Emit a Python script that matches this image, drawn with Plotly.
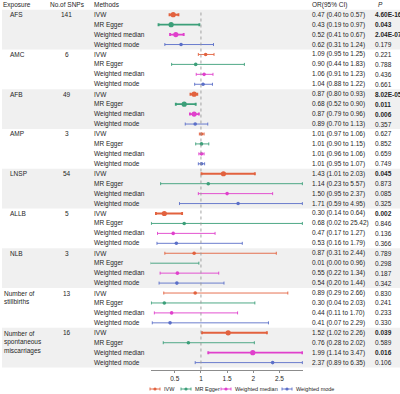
import plotly.graph_objects as go

# ---------------- data ----------------
exposures = ["AFS", "AMC", "AFB", "AMP", "LNSP", "ALLB", "NLB",
             "Number of<br>stillbirths", "Number of<br>spontaneous<br>miscarriages"]
n_snps = [141, 6, 49, 3, 54, 5, 3, 13, 16]
methods = ["IVW", "MR Egger", "Weighted median", "Weighted mode"]

or_vals = [0.47, 0.43, 0.52, 0.62,
           1.09, 0.90, 1.06, 1.04,
           0.87, 0.68, 0.87, 0.89,
           1.01, 1.01, 1.01, 1.01,
           1.43, 1.14, 1.50, 1.71,
           0.30, 0.68, 0.47, 0.53,
           0.87, 0.01, 0.55, 0.54,
           0.89, 0.30, 0.44, 0.41,
           1.52, 0.76, 1.99, 2.37]
ci_low = [0.40, 0.19, 0.41, 0.31,
          0.95, 0.44, 0.91, 0.88,
          0.80, 0.52, 0.79, 0.70,
          0.97, 0.90, 0.96, 0.95,
          1.01, 0.23, 0.95, 0.59,
          0.14, 0.02, 0.17, 0.16,
          0.31, 0.00, 0.22, 0.20,
          0.29, 0.04, 0.11, 0.07,
          1.02, 0.28, 1.14, 0.89]
ci_high = [0.57, 0.97, 0.67, 1.24,
           1.25, 1.83, 1.23, 1.22,
           0.93, 0.90, 0.96, 1.13,
           1.06, 1.15, 1.06, 1.07,
           2.03, 5.57, 2.37, 4.95,
           0.64, 25.42, 1.27, 1.79,
           2.44, 0.96, 1.34, 1.44,
           2.66, 2.03, 1.70, 2.29,
           2.26, 2.02, 3.47, 6.35]
p_text = ["4.60E-16", "0.043", "2.04E-07", "0.179",
          "0.221", "0.788", "0.436", "0.661",
          "8.02E-05", "0.011", "0.006", "0.357",
          "0.627", "0.852", "0.659", "0.749",
          "0.045", "0.873", "0.085", "0.325",
          "0.002", "0.846", "0.136", "0.366",
          "0.789", "0.298", "0.187", "0.342",
          "0.830", "0.241", "0.233", "0.330",
          "0.039", "0.589", "0.016", "0.106"]
x_ticks = [0.5, 1, 1.5, 2, 2.5]

colors = {"IVW": "#e2623f", "MR Egger": "#3c9f79",
          "Weighted median": "#e040cc", "Weighted mode": "#5b6fc8"}

# ---------------- layout constants ----------------
W, H = 400, 394
FONT = "Liberation Sans, Arial, sans-serif"
TXT = "#262626"
FS = 6.5
ROW0, ROWH = 14.7, 9.94
AX_BOTTOM = 369.5
XMIN, XMAX = 0.04, 2.95
PLOT_L, PLOT_R = 150.7, 303.0


def px(x):
    return x / W


def py(y):
    return (H - y) / H


n_rows = len(or_vals)
row_y = [ROW0 + i * ROWH for i in range(n_rows)]
row_method = [methods[i % 4] for i in range(n_rows)]
sig = [float(p) < 0.05 for p in p_text]

fig = go.Figure()

for m in methods:
    for s in (False, True):
        idx = [i for i in range(n_rows) if row_method[i] == m and sig[i] == s]
        if not idx:
            continue
        xs = [or_vals[i] for i in idx]
        ys = [row_y[i] for i in idx]
        plus = [max(min(ci_high[i], XMAX - 0.012) - or_vals[i], 0) for i in idx]
        minus = [max(or_vals[i] - max(ci_low[i], XMIN + 0.012), 0) for i in idx]
        fig.add_trace(go.Scatter(
            x=xs, y=ys, mode="markers",
            marker=dict(color=colors[m], size=5.2 if s else 3.6, line=dict(width=0)),
            error_x=dict(type="data", symmetric=False, array=plus, arrayminus=minus,
                         color=colors[m], thickness=1.9 if s else 0.9, width=1.5),
            showlegend=False, hoverinfo="skip"))

shapes = []
# group bands
for g in range(len(exposures)):
    if g % 2 == 0:
        top = ROW0 + 4 * g * ROWH - ROWH / 2
        bot = top + 4 * ROWH
        shapes.append(dict(type="rect", xref="paper", yref="paper",
                           x0=px(2), x1=px(400), y0=py(bot), y1=py(top),
                           fillcolor="#f0f0f0", line=dict(width=0), layer="below"))
# reference line at OR = 1
shapes.append(dict(type="line", xref="x", yref="paper", x0=1, x1=1,
                   y0=py(AX_BOTTOM), y1=py(ROW0 - ROWH / 2),
                   line=dict(color="#9a9a9a", width=0.9, dash="dot")))

ann = []


def text(x, y, s, anchor="left", bold=False, italic=False, size=FS, yanchor="middle"):
    if bold:
        s = "<b>" + s + "</b>"
    if italic:
        s = "<i>" + s + "</i>"
    ann.append(dict(xref="paper", yref="paper", x=px(x), y=py(y), text=s,
                    showarrow=False, xanchor=anchor, yanchor=yanchor, align="left",
                    font=dict(family=FONT, size=size, color=TXT)))


# headers
HY = 4.8
text(0.5, HY, "Exposure")
text(47.5, HY, "No.of SNPs")
text(91.7, HY, "Methods")
text(310, HY, "OR(95% CI)")
text(376, HY, "P", italic=True)

for g, e in enumerate(exposures):
    y = row_y[4 * g]
    if "<br>" in e:
        text(1.5, y - 4.6, e, yanchor="top")
    else:
        text(7.5, y, e)
    text(66.5, y, str(n_snps[g]), anchor="center")

for i in range(n_rows):
    y = row_y[i]
    text(91.7, y, row_method[i])
    text(310, y, f"{or_vals[i]:.2f} ({ci_low[i]:.2f} to {ci_high[i]:.2f})")
    text(373, y, p_text[i], bold=sig[i])

# custom legend
LY = 389
leg_glyph = [155.0, 186.0, 226.0, 287.0]
for m, gx in zip(methods, leg_glyph):
    c = colors[m]
    shapes.append(dict(type="line", xref="paper", yref="paper", x0=px(gx - 5), x1=px(gx + 5),
                       y0=py(LY), y1=py(LY), line=dict(color=c, width=0.9)))
    for ex in (gx - 5, gx + 5):
        shapes.append(dict(type="line", xref="paper", yref="paper", x0=px(ex), x1=px(ex),
                           y0=py(LY - 1.5), y1=py(LY + 1.5), line=dict(color=c, width=0.9)))
    shapes.append(dict(type="circle", xref="paper", yref="paper",
                       x0=px(gx - 1.6), x1=px(gx + 1.6), y0=py(LY + 1.6), y1=py(LY - 1.6),
                       fillcolor=c, line=dict(width=0)))
    text(gx + 6.5, LY, m, size=5.5)

fig.update_layout(
    width=W, height=H, margin=dict(l=0, r=0, t=0, b=0, pad=0),
    paper_bgcolor="white", plot_bgcolor="rgba(0,0,0,0)",
    shapes=shapes, annotations=ann, showlegend=False,
    xaxis=dict(domain=[px(PLOT_L), px(PLOT_R)], range=[XMIN, XMAX],
               tickvals=x_ticks, ticktext=[f"{t:g}" for t in x_ticks],
               showline=True, linecolor="#8c8c8c", linewidth=0.9,
               ticks="outside", ticklen=3, tickwidth=0.9, tickcolor="#8c8c8c",
               showgrid=False, zeroline=False,
               tickfont=dict(family=FONT, size=FS, color=TXT)),
    yaxis=dict(domain=[py(AX_BOTTOM), 1], range=[AX_BOTTOM, 0], visible=False),
)

fig.write_html("out.html", config={"displayModeBar": False},
               post_script="document.body.style.margin='0';document.body.style.overflow='hidden';")
